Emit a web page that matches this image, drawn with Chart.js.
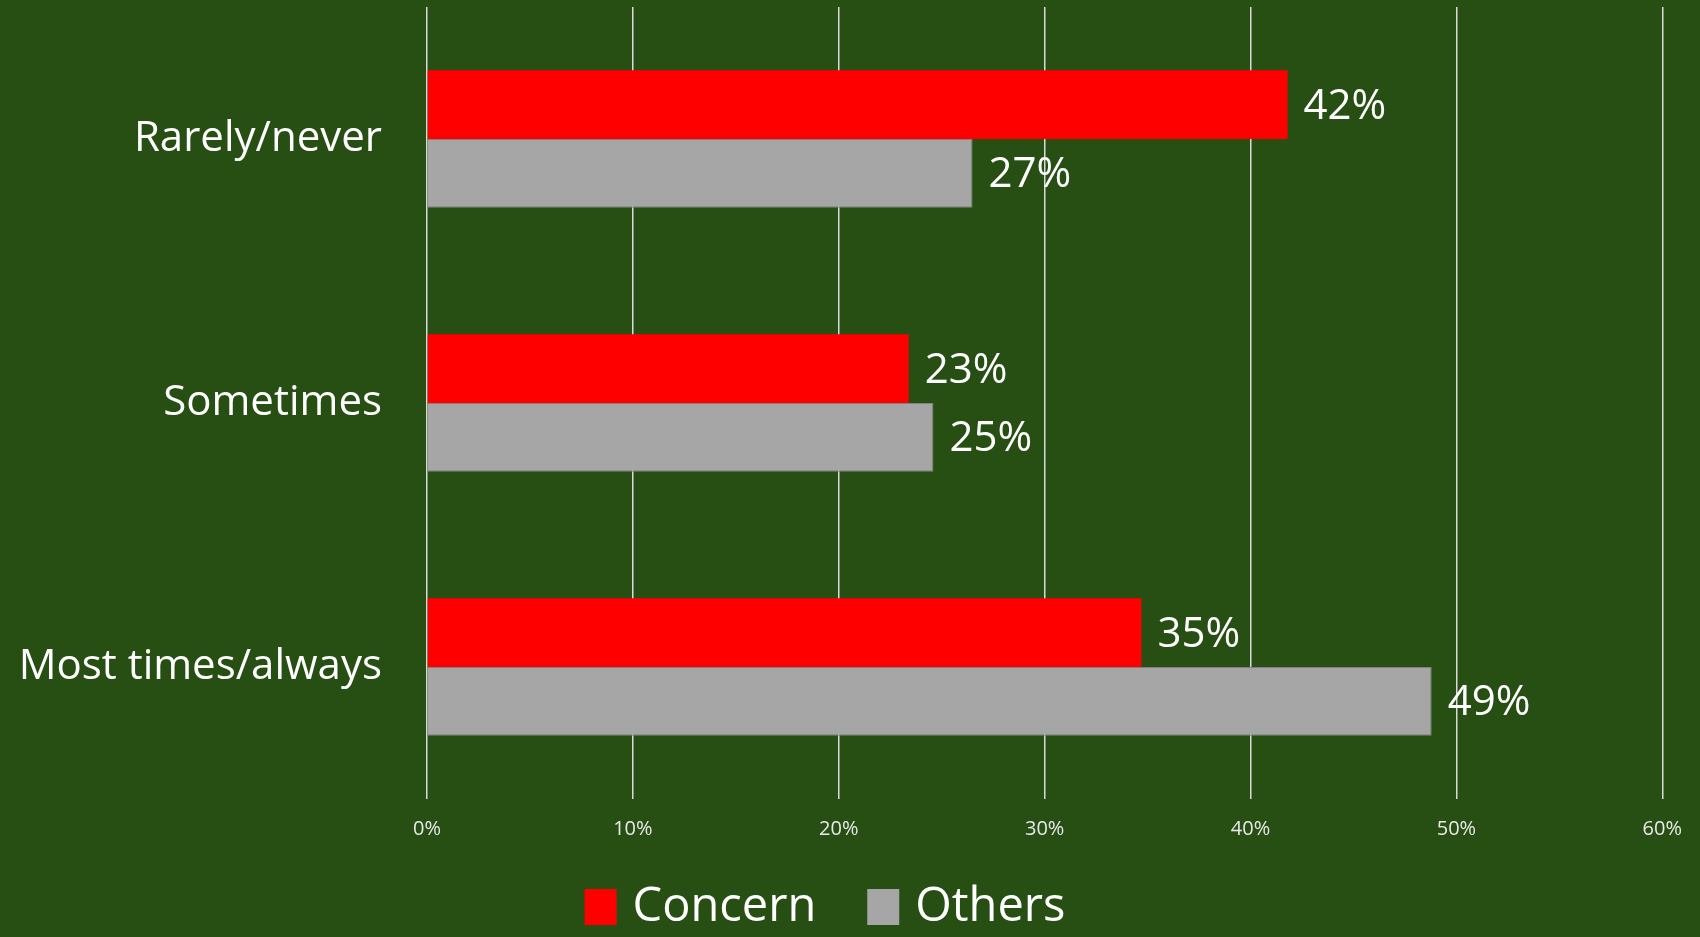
<!DOCTYPE html>
<html>
<head>
<meta charset="utf-8">
<script src="https://cdn.jsdelivr.net/npm/chart.js@4.4.1/dist/chart.umd.min.js"></script>
<style>
  html, body { margin: 0; padding: 0; background: #274e13; }
  canvas { display: block; }
</style>
</head>
<body>
<canvas id="myChart" width="1700" height="937"></canvas>
<script>
// survey answers, percent of respondents
const categories = ['Rarely/never', 'Sometimes', 'Most times/always'];
const seriesNames = ['Concern', 'Others'];
const concernValues = [41.8, 23.4, 34.7];
const othersValues = [26.5, 24.6, 48.8];
const seriesColors = ['#ff0000', '#a6a6a6'];
const xTickStep = 10;
const xMax = 60;

const FONT = '"Open Sans", "Noto Sans", sans-serif';

// numbers at the end of each bar
const valueLabels = {
  id: 'valueLabels',
  afterDatasetsDraw(chart) {
    const ctx = chart.ctx;
    ctx.save();
    ctx.font = '42px ' + FONT;
    ctx.fillStyle = '#ffffff';
    ctx.textAlign = 'left';
    ctx.textBaseline = 'middle';
    chart.data.datasets.forEach((ds, i) => {
      chart.getDatasetMeta(i).data.forEach((bar, j) => {
        ctx.fillText(Math.round(ds.data[j]) + '%', bar.x + 16, bar.y + 2);
      });
    });
    ctx.restore();
  }
};

// legend row under the axis, square swatch + name
const bottomLegend = {
  id: 'bottomLegend',
  afterDraw(chart) {
    const ctx = chart.ctx;
    const boxW = 32, boxH = 36, gap = 16, itemGap = 51;
    ctx.save();
    ctx.font = '47px ' + FONT;
    const items = chart.data.datasets.map(ds => ({
      text: ds.label,
      color: ds.backgroundColor,
      w: boxW + gap + ctx.measureText(ds.label).width
    }));
    const total = items.reduce((s, it) => s + it.w, 0) + itemGap * (items.length - 1);
    let x = chart.width / 2 - 25 - total / 2;
    const cy = 907;
    ctx.textBaseline = 'middle';
    ctx.textAlign = 'left';
    items.forEach(it => {
      ctx.fillStyle = it.color;
      ctx.fillRect(x, cy - boxH / 2, boxW, boxH);
      ctx.fillStyle = '#ffffff';
      ctx.fillText(it.text, x + boxW + gap, cy + 1);
      x += it.w + itemGap;
    });
    ctx.restore();
  }
};

const ctx = document.getElementById('myChart').getContext('2d');
new Chart(ctx, {
  type: 'bar',
  data: {
    labels: categories,
    datasets: [
      {
        label: seriesNames[0],
        data: concernValues,
        backgroundColor: seriesColors[0],
        barPercentage: 1,
        categoryPercentage: 0.52
      },
      {
        label: seriesNames[1],
        data: othersValues,
        backgroundColor: seriesColors[1],
        borderColor: '#808080',
        borderWidth: 1,
        borderSkipped: 'start',
        barPercentage: 1,
        categoryPercentage: 0.52
      }
    ]
  },
  options: {
    indexAxis: 'y',
    responsive: false,
    animation: false,
    layout: { padding: { top: 7, right: 37, bottom: 78, left: 0 } },
    plugins: {
      legend: { display: false },
      tooltip: { enabled: false }
    },
    scales: {
      x: {
        min: 0,
        max: xMax,
        ticks: {
          stepSize: xTickStep,
          callback: v => v + '%',
          color: '#e8e8e8',
          font: { family: FONT, size: 20 },
          padding: 18
        },
        grid: { color: '#d9d9d9', lineWidth: 1.5, drawTicks: false },
        border: { display: false }
      },
      y: {
        ticks: {
          color: '#ffffff',
          font: { family: FONT, size: 42 },
          padding: 45
        },
        grid: { display: false, drawTicks: false },
        border: { display: false },
        afterFit: scale => {
          scale.width = 427;
          // tick padding is only wanted horizontally
          scale.paddingTop = 0;
          scale.paddingBottom = 0;
        }
      }
    }
  },
  plugins: [valueLabels, bottomLegend]
});
</script>
</body>
</html>
